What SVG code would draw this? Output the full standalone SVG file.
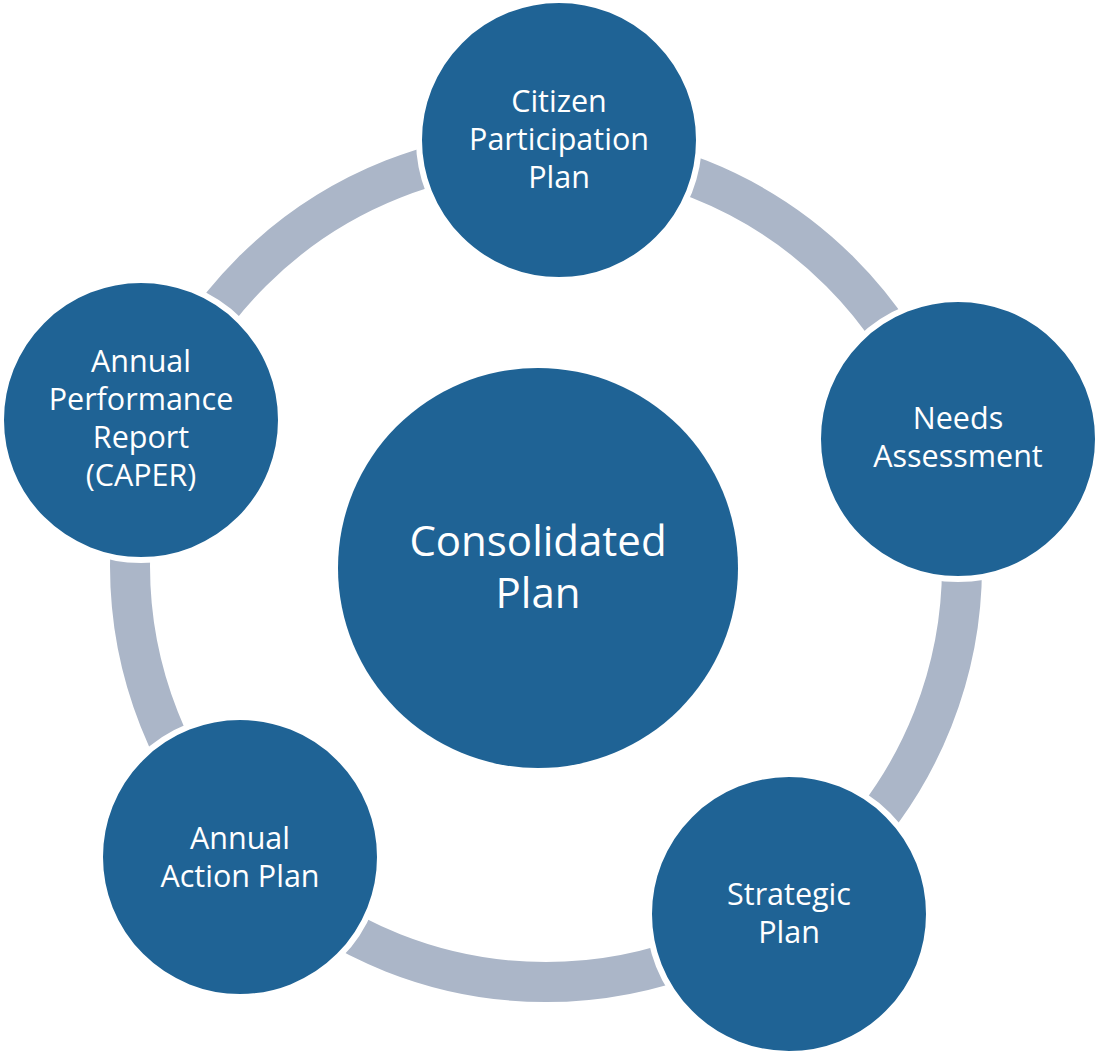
<svg xmlns="http://www.w3.org/2000/svg" width="1099" height="1051" viewBox="0 0 1099 1051">
<style>
.node{fill:#1F6395;stroke:#FFFFFF;stroke-width:6}
.lbl{font-family:"Open Sans","Noto Sans",sans-serif;font-size:30.5px;fill:#FFFFFF;text-anchor:middle}
.big{font-size:42px}
.ring{fill:none;stroke:#ABB6C8;stroke-width:40}
</style>
<rect width="1099" height="1051" fill="#FFFFFF"/>
<g id="connectors">
<circle class="ring" cx="546" cy="566" r="416"/>
</g>
<g id="center">
<circle cx="538" cy="568" r="200" fill="#1F6395"/>
<text class="lbl big" x="538" y="556">Consolidated</text>
<text class="lbl big" x="538" y="608">Plan</text>
</g>
<g id="citizen">
<circle class="node" cx="559" cy="140" r="140"/>
<text class="lbl" x="559" y="112">Citizen</text>
<text class="lbl" x="559" y="150">Participation</text>
<text class="lbl" x="559" y="188">Plan</text>
</g>
<g id="needs">
<circle class="node" cx="958" cy="439" r="140"/>
<text class="lbl" x="958" y="429">Needs</text>
<text class="lbl" x="958" y="467">Assessment</text>
</g>
<g id="strategic">
<circle class="node" cx="789" cy="914" r="140"/>
<text class="lbl" x="789" y="905">Strategic</text>
<text class="lbl" x="789" y="943">Plan</text>
</g>
<g id="action">
<circle class="node" cx="240" cy="857" r="140"/>
<text class="lbl" x="240" y="849">Annual</text>
<text class="lbl" x="240" y="887">Action Plan</text>
</g>
<g id="performance">
<circle class="node" cx="141" cy="420" r="140"/>
<text class="lbl" x="141" y="372">Annual</text>
<text class="lbl" x="141" y="410">Performance</text>
<text class="lbl" x="141" y="448">Report</text>
<text class="lbl" x="141" y="486">(CAPER)</text>
</g>
</svg>
